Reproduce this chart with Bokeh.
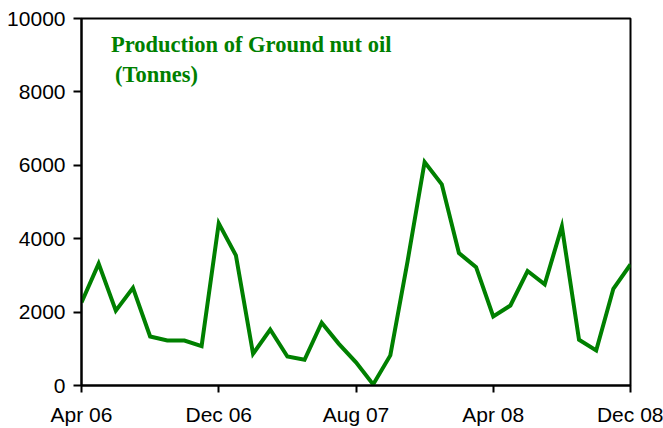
from bokeh.plotting import figure
from bokeh.models import FixedTicker, Range1d, Label, ColumnDataSource
from bokeh.embed import file_html
from bokeh.resources import INLINE

months = ["Apr 06", "May 06", "Jun 06", "Jul 06", "Aug 06", "Sep 06", "Oct 06", "Nov 06",
          "Dec 06", "Jan 07", "Feb 07", "Mar 07", "Apr 07", "May 07", "Jun 07", "Jul 07",
          "Aug 07", "Sep 07", "Oct 07", "Nov 07", "Dec 07", "Jan 08", "Feb 08", "Mar 08",
          "Apr 08", "May 08", "Jun 08", "Jul 08", "Aug 08", "Sep 08", "Oct 08", "Nov 08",
          "Dec 08"]
production = [2260, 3320, 2040, 2660, 1335, 1225, 1225, 1075,
              4420, 3545, 865, 1525, 790, 700, 1710, 1135,
              630, 30, 820, 3370, 6090, 5480, 3610, 3225,
              1880, 2180, 3120, 2755, 4335, 1245, 955, 2635,
              3300]
tick_labels = ["Apr 06", "Dec 06", "Aug 07", "Apr 08", "Dec 08"]
y_ticks = [0, 2000, 4000, 6000, 8000, 10000]

idx = list(range(len(months)))
tick_pos = [months.index(t) for t in tick_labels]
src = ColumnDataSource(dict(x=idx, y=production))

p = figure(width=663, height=428, output_backend="svg", toolbar_location=None,
           x_range=Range1d(0, len(months) - 1), y_range=Range1d(0, 10000),
           min_border_left=81, min_border_right=33, min_border_top=18, min_border_bottom=43)
p.line("x", "y", source=src, line_color="#008000", line_width=4, line_join="miter")

p.grid.visible = False
p.outline_line_color = "black"
p.outline_line_width = 2
p.background_fill_color = "white"
p.border_fill_color = "white"

for ax in (p.xaxis, p.yaxis):
    ax.axis_line_color = "black"
    ax.axis_line_width = 2
    ax.major_tick_line_color = "black"
    ax.major_tick_line_width = 2
    ax.major_tick_in = 0
    ax.minor_tick_line_color = None
    ax.major_label_text_font = "Liberation Sans"
    ax.major_label_text_font_size = "21px"
    ax.major_label_text_color = "black"

p.xaxis.ticker = FixedTicker(ticks=tick_pos)
p.xaxis.major_label_overrides = {pos: lab for pos, lab in zip(tick_pos, tick_labels)}
p.xaxis.major_tick_out = 7
p.xaxis.major_label_standoff = 10
p.yaxis.ticker = FixedTicker(ticks=y_ticks)
p.yaxis.major_tick_out = 8
p.yaxis.major_label_standoff = 8

t1 = Label(x=1.72, y=9290, text="Production of Ground nut oil", text_font="Liberation Serif",
           text_font_style="bold", text_font_size="22.5px", text_color="#008000",
           text_baseline="alphabetic")
t2 = Label(x=1.95, y=8480, text="(Tonnes)", text_font="Liberation Serif",
           text_font_style="bold", text_font_size="22.5px", text_color="#008000",
           text_baseline="alphabetic")
p.add_layout(t1)
p.add_layout(t2)

open("out.html", "w").write(file_html(p, INLINE))
